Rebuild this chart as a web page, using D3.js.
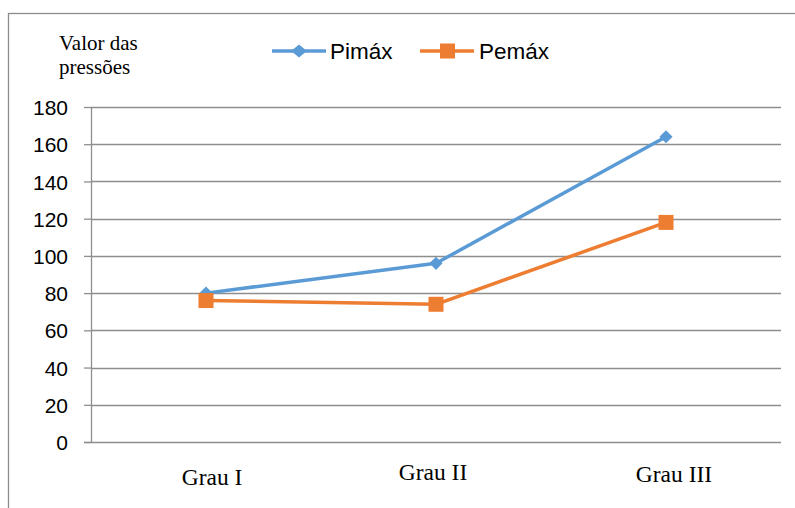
<!DOCTYPE html>
<html>
<head>
<meta charset="utf-8">
<script src="https://cdn.jsdelivr.net/npm/d3@7/dist/d3.min.js"></script>
<style>
  html, body { margin: 0; padding: 0; background: #fff; }
  svg { display: block; }
</style>
</head>
<body>
<svg id="chart" width="795" height="508"></svg>
<script>
// Pressure values by degree
const categories = ["Grau I", "Grau II", "Grau III"];
const pimax = [80, 96, 164];
const pemax = [76, 74, 118];
const yTicks = [0, 20, 40, 60, 80, 100, 120, 140, 160, 180];
const seriesNames = ["Pimáx", "Pemáx"];

const svg = d3.select("#chart");
const margin = { left: 91, top: 107 };
const plotW = 781 - margin.left;
const plotH = 442 - margin.top;

// Outer chart frame (runs past the right and bottom edges)
svg.append("rect")
  .attr("x", 8.5).attr("y", 13.5)
  .attr("width", 800).attr("height", 510)
  .attr("fill", "none").attr("stroke", "#8c8c8c").attr("stroke-width", 1.3);

const g = svg.append("g").attr("transform", `translate(${margin.left},${margin.top})`);

const x = d3.scaleBand().domain(categories).range([0, plotW]);
const y = d3.scaleLinear().domain([0, 180]).range([plotH, 0]);

// Horizontal gridlines
g.append("g").selectAll("line").data(yTicks.filter(d => d > 0)).join("line")
  .attr("x1", 0).attr("x2", plotW)
  .attr("y1", d => Math.round(y(d)) + 0.5).attr("y2", d => Math.round(y(d)) + 0.5)
  .attr("stroke", "#8e8e8e").attr("stroke-width", 1.3);

// Y axis
const yAxis = g.append("g")
  .call(d3.axisLeft(y).tickValues(yTicks).tickSize(7).tickPadding(16).tickFormat(d3.format("d")));
yAxis.select(".domain").attr("stroke", "#8e8e8e").attr("stroke-width", 1.3).attr("d", `M0.5,0V${plotH}`);
yAxis.selectAll(".tick line").attr("stroke", "#8e8e8e").attr("stroke-width", 1.3);
yAxis.selectAll(".tick text")
  .attr("font-family", "'Liberation Sans', Arial, sans-serif")
  .attr("font-size", 21).attr("fill", "#000").attr("dy", "0.36em");

// X axis baseline
g.append("line")
  .attr("x1", -7).attr("x2", plotW)
  .attr("y1", plotH + 0.5).attr("y2", plotH + 0.5)
  .attr("stroke", "#8e8e8e").attr("stroke-width", 1.3);

// Category labels
const catDy = [43, 38, 40];
const catDx = [6, -3, 8];
g.append("g").selectAll("text").data(categories).join("text")
  .attr("x", (d, i) => x(d) + x.bandwidth() / 2 + catDx[i])
  .attr("y", (d, i) => plotH + catDy[i])
  .attr("text-anchor", "middle")
  .attr("font-family", "'Liberation Serif', 'Times New Roman', serif")
  .attr("font-size", 23.5).attr("fill", "#000")
  .text(d => d);

const cx = d => x(d) + x.bandwidth() / 2;
const line = d3.line().x((v, i) => cx(categories[i])).y(v => y(v));

const blue = "#5b9bd5", orange = "#ed7d31";

// Pimáx series
g.append("path").datum(pimax).attr("d", line)
  .attr("fill", "none").attr("stroke", blue).attr("stroke-width", 3.5).attr("stroke-linejoin", "round");
g.append("g").selectAll("path").data(pimax).join("path")
  .attr("transform", (v, i) => `translate(${cx(categories[i])},${y(v)})`)
  .attr("d", d3.symbol(d3.symbolDiamond2, 110)())
  .attr("fill", blue);

// Pemáx series
g.append("path").datum(pemax).attr("d", line)
  .attr("fill", "none").attr("stroke", orange).attr("stroke-width", 3.5).attr("stroke-linejoin", "round");
g.append("g").selectAll("rect").data(pemax).join("rect")
  .attr("x", (v, i) => cx(categories[i]) - 7.5).attr("y", v => y(v) - 7.5)
  .attr("width", 15).attr("height", 15)
  .attr("fill", orange);

// Y axis title
const title = svg.append("text")
  .attr("font-family", "'Liberation Serif', 'Times New Roman', serif")
  .attr("font-size", 21).attr("fill", "#000");
title.append("tspan").attr("x", 59).attr("y", 50).text("Valor das");
title.append("tspan").attr("x", 59).attr("y", 74).text("pressões");

// Legend
const legend = svg.append("g");
const legendItems = [
  { name: seriesNames[0], color: blue, x: 272, marker: "diamond" },
  { name: seriesNames[1], color: orange, x: 420, marker: "square" }
];
const ly = 51;
legendItems.forEach(it => {
  legend.append("line")
    .attr("x1", it.x).attr("x2", it.x + 54).attr("y1", ly).attr("y2", ly)
    .attr("stroke", it.color).attr("stroke-width", 3.5);
  if (it.marker === "diamond") {
    legend.append("path")
      .attr("transform", `translate(${it.x + 27},${ly}) scale(1.1,0.92)`)
      .attr("d", d3.symbol(d3.symbolDiamond2, 130)())
      .attr("fill", it.color);
  } else {
    legend.append("rect")
      .attr("x", it.x + 20).attr("y", ly - 7.5).attr("width", 15).attr("height", 15)
      .attr("fill", it.color);
  }
  legend.append("text")
    .attr("x", it.x + (it.marker === "diamond" ? 58 : 59)).attr("y", ly + 8)
    .attr("font-family", "'Liberation Sans', Arial, sans-serif")
    .attr("font-size", 22.5).attr("fill", "#000")
    .text(it.name);
});
</script>
</body>
</html>
